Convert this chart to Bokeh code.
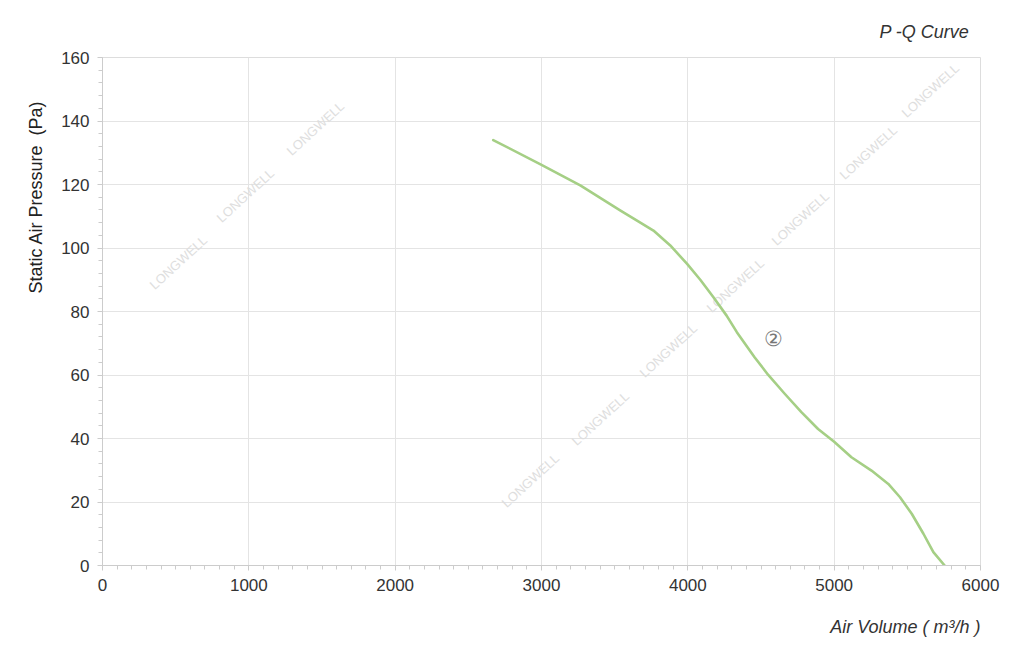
from bokeh.plotting import figure
from bokeh.models import Range1d, SingleIntervalTicker, Label, Title
from bokeh.embed import file_html
from bokeh.resources import INLINE

# ---- data ----
air_volume = [2670, 3000, 3265, 3540, 3650, 3765, 3880, 3995, 4085, 4175, 4265,
              4335, 4456, 4548, 4662, 4776, 4890, 5000, 5118, 5255, 5370, 5450,
              5530, 5610, 5678, 5755]
static_pressure = [134.0, 126.2, 119.7, 111.8, 108.7, 105.5, 100.8, 95.0, 90.0, 84.5,
                   78.7, 73.5, 65.6, 60.1, 54.1, 48.3, 43.0, 39.0, 34.1, 29.9, 25.7,
                   21.5, 16.3, 10.0, 4.2, 0.0]
curve_label = "②"
curve_label_q = 4586
curve_label_p = 71.6

x_title = "Air Volume ( m³/h )"
y_title = "Static Air Pressure \u00a0(Pa)"
chart_title = "P -Q Curve"
watermark = "LONGWELL"

FONT = "Liberation Sans"

p = figure(width=1024, height=659, output_backend="svg", toolbar_location=None,
           x_range=Range1d(0, 6000), y_range=Range1d(0, 160),
           min_border_left=102, min_border_right=44, min_border_top=57,
           min_border_bottom=94)
p.background_fill_color = "white"
p.border_fill_color = "white"
p.outline_line_color = "#dddddd"

# axes
p.xaxis.ticker = SingleIntervalTicker(interval=1000, num_minor_ticks=10)
p.yaxis.ticker = SingleIntervalTicker(interval=20, num_minor_ticks=5)
for ax in (p.xaxis, p.yaxis):
    ax.axis_line_color = "#cccccc"
    ax.major_tick_line_color = "#cccccc"
    ax.minor_tick_line_color = "#cccccc"
    ax.major_tick_out = 5
    ax.major_tick_in = 0
    ax.minor_tick_out = 4
    ax.minor_tick_in = 0
    ax.major_label_text_font = FONT
    ax.major_label_text_font_size = "17px"
    ax.major_label_text_color = "#333333"
p.xaxis.major_label_standoff = 8
p.yaxis.major_label_standoff = 8

p.xgrid.grid_line_color = "#e4e4e4"
p.ygrid.grid_line_color = "#e4e4e4"

# titles (placed in side panels)
top_title = Title(text=chart_title, align="right", offset=11, standoff=32,
                  text_font=FONT, text_font_size="18px", text_font_style="italic",
                  text_color="#333333")
p.add_layout(top_title, "above")
x_lab = Title(text=x_title, align="right", offset=0, standoff=42,
              text_font=FONT, text_font_size="18px", text_font_style="italic",
              text_color="#333333")
p.add_layout(x_lab, "below")
y_lab = Title(text=y_title, align="right", offset=43, standoff=26,
              text_font=FONT, text_font_size="18px", text_font_style="normal",
              text_color="#222222")
p.add_layout(y_lab, "left")

# watermarks (faint, rotated) inside the frame
wm_positions = [(178, 262), (245, 195), (315, 128),
                (530, 480), (600, 418), (668, 350), (735, 285), (800, 218),
                (868, 152), (930, 90)]
for (px, py) in wm_positions:
    p.add_layout(Label(x=px - 102, y=565 - py, x_units="screen", y_units="screen",
                       text=watermark, angle=0.74, text_align="center",
                       text_baseline="middle", text_font=FONT,
                       text_font_size="13px", text_color="#dedede",
                       level="underlay"))

# curve
p.line(air_volume, static_pressure, line_color="#a5cf85", line_width=2.6,
       line_join="round", line_cap="round")

p.add_layout(Label(x=curve_label_q, y=curve_label_p, text=curve_label,
                   text_align="center", text_baseline="middle", text_font=FONT,
                   text_font_size="21px", text_color="#777777"))

open("out.html", "w").write(file_html(p, INLINE))
